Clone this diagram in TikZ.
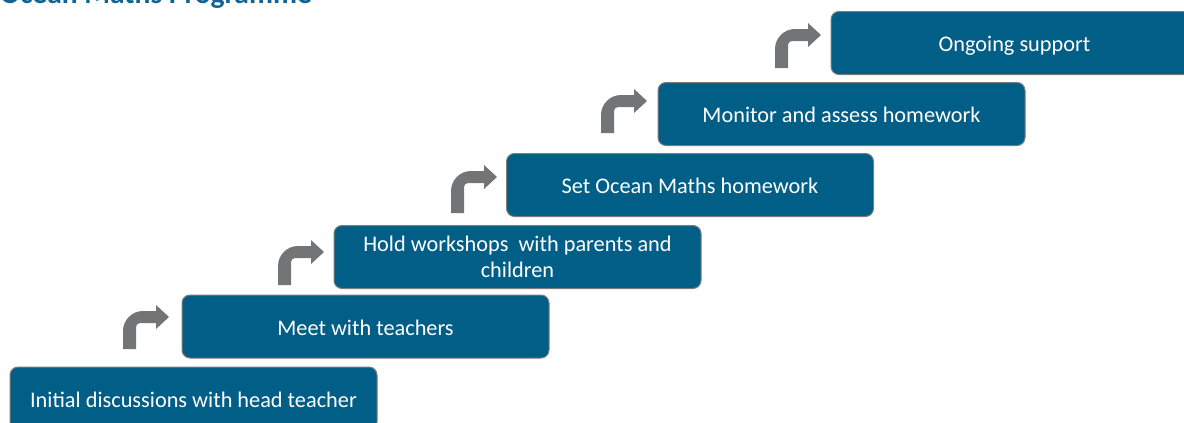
\documentclass[tikz,border=0pt]{standalone}
\usepackage{fontspec}
\setmainfont{Carlito}
\definecolor{boxblue}{RGB}{0,94,135}
\definecolor{boxedge}{RGB}{125,125,125}
\definecolor{arrowgray}{RGB}{114,116,118}
\definecolor{titleblue}{RGB}{16,100,148}
\begin{document}
\begin{tikzpicture}[x=1pt,y=-1pt,
  stepbox/.style={draw=boxedge, line width=1pt, fill=boxblue, rounded corners=8pt,
    minimum width=367pt, minimum height=63pt, inner sep=0pt, text=white,
    align=center, text height=17pt, text depth=0pt,
    font=\fontsize{22.3}{25.5}\selectfont},
  pics/steparrow/.style={code={
    \fill[arrowgray] (-46,#1) -- (-46,14) .. controls (-46,3) and (-37,-6) .. (-26,-6)
      -- (-13,-6) -- (-13,-12) -- (0,0) -- (-13,12) -- (-13,6) -- (-29,6)
      .. controls (-31.2,6) and (-33,7.8) .. (-33,10) -- (-33,#1) -- cycle;
  }}]
\useasboundingbox (0,0) rectangle (1184,423);
\node[anchor=base west, inner sep=0pt, text=titleblue, font=\fontsize{29.5}{30}\selectfont\bfseries] (title) at (0,4) {Ocean Maths Programme};
\node[stepbox] (b1) at (193.5,398.5) {Initial discussions with head teacher};
\node[stepbox] (b2) at (365.5,326.5) {Meet with teachers};
\node[stepbox, text height=40pt] (b3) at (517.5,257) {Hold workshops\ \ with parents and\\children};
\node[stepbox] (b4) at (690,185) {Set Ocean Maths homework};
\node[stepbox] (b5) at (841.5,114) {Monitor and assess homework};
\node[stepbox] (b6) at (1014.5,43) {Ongoing support};
\pic (a1) at (169,317) {steparrow=32};
\pic (a2) at (324,252) {steparrow=33};
\pic (a3) at (497,177) {steparrow=36};
\pic (a4) at (647,101) {steparrow=32};
\pic (a5) at (821,35) {steparrow=33};
\end{tikzpicture}
\end{document}
